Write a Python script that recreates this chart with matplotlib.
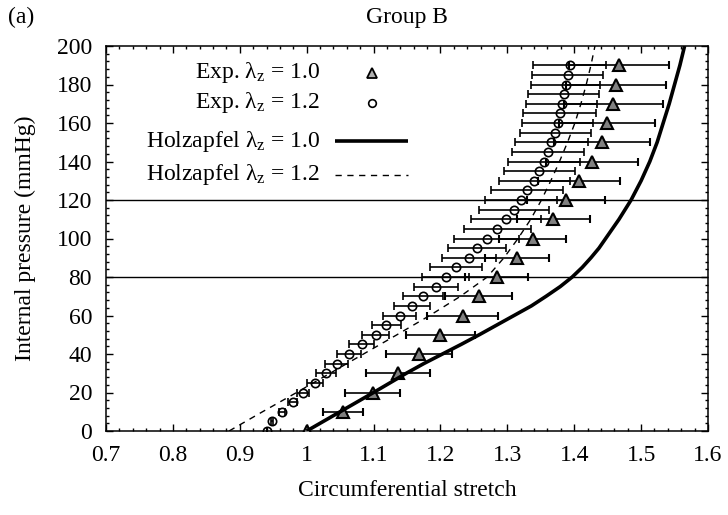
import numpy as np
import matplotlib
matplotlib.use("Agg")
import matplotlib.pyplot as plt
from matplotlib.ticker import MultipleLocator
from matplotlib.lines import Line2D

plt.rcParams["font.family"] = ["Liberation Serif", "DejaVu Serif"]
plt.rcParams["mathtext.fontset"] = "custom"
plt.rcParams["mathtext.rm"] = "Liberation Serif"
plt.rcParams["mathtext.it"] = "Liberation Serif:italic"
plt.rcParams["font.size"] = 17

# Experimental data, lambda_z = 1.0 (every 10 mmHg)
p_exp10 = [0, 10, 20, 30, 40, 50, 60, 70, 80, 90, 100, 110, 120, 130, 140, 150, 160, 170, 180, 190]
stretch_exp10 = [1.000, 1.054, 1.099, 1.136, 1.168, 1.200, 1.233, 1.257, 1.284, 1.315,
                 1.338, 1.369, 1.388, 1.407, 1.427, 1.442, 1.449, 1.458, 1.462, 1.467]
err_exp10 = [0.000, 0.030, 0.041, 0.048, 0.049, 0.051, 0.053, 0.050, 0.047, 0.048,
             0.050, 0.055, 0.058, 0.061, 0.069, 0.072, 0.072, 0.074, 0.075, 0.075]

# Experimental data, lambda_z = 1.2 (every 5 mmHg)
p_exp12 = [0, 5, 10, 15, 20, 25, 30, 35, 40, 45, 50, 55, 60, 65, 70, 75, 80, 85, 90, 95,
           100, 105, 110, 115, 120, 125, 130, 135, 140, 145, 150, 155, 160, 165, 170, 175,
           180, 185, 190]
stretch_exp12 = [0.940, 0.948, 0.963, 0.979, 0.994, 1.012, 1.029, 1.045, 1.063, 1.082,
                 1.103, 1.119, 1.139, 1.158, 1.174, 1.193, 1.208, 1.223, 1.243, 1.255,
                 1.269, 1.285, 1.298, 1.310, 1.320, 1.329, 1.340, 1.348, 1.355, 1.361,
                 1.366, 1.372, 1.375, 1.378, 1.381, 1.384, 1.387, 1.390, 1.393]
err_exp12 = [0.000, 0.002, 0.005, 0.007, 0.009, 0.012, 0.015, 0.017, 0.018, 0.019,
             0.020, 0.022, 0.025, 0.027, 0.030, 0.033, 0.035, 0.039, 0.040, 0.043,
             0.048, 0.050, 0.052, 0.053, 0.054, 0.054, 0.053, 0.053, 0.054, 0.054,
             0.054, 0.053, 0.053, 0.054, 0.053, 0.053, 0.052, 0.053, 0.054]

# Holzapfel model, lambda_z = 1.0
p_model10 = [0, 10, 20, 30, 35, 40, 45, 50, 55, 60, 65, 70, 75, 80, 85, 90, 95, 100,
             110, 120, 130, 140, 150, 160, 170, 180, 190, 200]
stretch_model10 = [1.000, 1.050, 1.100, 1.149, 1.175, 1.203, 1.231, 1.258, 1.284, 1.310,
                   1.336, 1.358, 1.379, 1.397, 1.412, 1.425, 1.437, 1.447, 1.467, 1.485,
                   1.500, 1.513, 1.524, 1.533, 1.542, 1.550, 1.558, 1.565]

# Holzapfel model, lambda_z = 1.2
p_model12 = [0, 10, 20, 30, 40, 50, 60, 70, 80, 90, 100, 110, 120, 130, 140, 150,
             160, 170, 180, 190, 200]
stretch_model12 = [0.884, 0.934, 0.985, 1.035, 1.085, 1.135, 1.184, 1.230, 1.270, 1.295,
                   1.316, 1.335, 1.351, 1.365, 1.378, 1.390, 1.401, 1.410, 1.418, 1.425,
                   1.431]

ref_pressures = [80, 120]

x_ticks = [0.7, 0.8, 0.9, 1.0, 1.1, 1.2, 1.3, 1.4, 1.5, 1.6]
x_ticklabels = ["0.7", "0.8", "0.9", "1", "1.1", "1.2", "1.3", "1.4", "1.5", "1.6"]

fig = plt.figure(figsize=(7.28, 5.15), dpi=100)
ax = fig.add_axes([106 / 728, 1 - 431 / 515, 602 / 728, 385 / 515])

for p in ref_pressures:
    ax.axhline(p, color="black", lw=1.0, zorder=1)

ax.plot(stretch_model12, p_model12, color="black", lw=1.0, dashes=(4.5, 4), zorder=2)

ax.errorbar(stretch_exp12, p_exp12, xerr=err_exp12, fmt="o", ms=6, mfc="none",
            mec="black", mew=1.2, ecolor="black", elinewidth=1.2, capsize=3,
            capthick=1.2, zorder=3)
ax.errorbar(stretch_exp10, p_exp10, xerr=err_exp10, fmt="^", ms=9, mfc="#808080",
            mec="black", mew=1.5, ecolor="black", elinewidth=1.2, capsize=3,
            capthick=1.2, zorder=4)

ax.plot(stretch_model10, p_model10, color="black", lw=2.6, solid_capstyle="butt",
        solid_joinstyle="round", zorder=5)

ax.set_xlim(0.7, 1.6)
ax.set_ylim(0, 200)
ax.set_xticks(x_ticks)
ax.set_xticklabels(x_ticklabels)
ax.yaxis.set_major_locator(MultipleLocator(20))
ax.xaxis.set_minor_locator(MultipleLocator(0.02))
ax.yaxis.set_minor_locator(MultipleLocator(4))
ax.tick_params(which="both", direction="in", top=True, right=True, width=1.0)
ax.tick_params(which="major", length=5, pad=10, labelsize=17)
ax.tick_params(which="minor", length=2.5)
for s in ax.spines.values():
    s.set_linewidth(1.1)

ax.set_xlabel("Circumferential stretch", fontsize=17)
ax.xaxis.label.set_va("center")
ax.xaxis.set_label_coords(0.5, (431 - 490) / 385)
ax.set_ylabel("Internal pressure (mmHg)", fontsize=17)
ax.yaxis.label.set_va("center")
ax.yaxis.set_label_coords((25 - 106) / 602, 0.5)

fig.text(407 / 728, 1 - 17 / 515, "Group B", ha="center", va="center", fontsize=17)
fig.text(8 / 728, 1 - 17 / 515, "(a)", ha="left", va="center", fontsize=17)

# Key: right-aligned labels followed by their symbols
lam = r"$\mathrm{\lambda_z}$"
key_rows = [
    ("Exp. " + lam + " = 1.0", 0.931, "tri"),
    ("Exp. " + lam + " = 1.2", 0.853, "circ"),
    ("Holzapfel " + lam + " = 1.0", 0.753, "solid"),
    ("Holzapfel " + lam + " = 1.2", 0.665, "dash"),
]
text_right = (320 - 106) / 602
sample_x0 = (335 - 106) / 602
sample_x1 = (408 - 106) / 602
marker_x = (372 - 106) / 602
for label, y, kind in key_rows:
    ax.text(text_right, y, label, transform=ax.transAxes, ha="right", va="center",
            fontsize=17)
    if kind == "tri":
        ax.add_line(Line2D([marker_x], [y], transform=ax.transAxes, marker="^", ms=7,
                           mfc="#b0b0b0", mec="black", mew=1.3, ls="none"))
    elif kind == "circ":
        ax.add_line(Line2D([marker_x], [y], transform=ax.transAxes, marker="o", ms=5.5,
                           mfc="none", mec="black", mew=1.2, ls="none"))
    elif kind == "solid":
        ax.add_line(Line2D([sample_x0, sample_x1], [y, y], transform=ax.transAxes,
                           color="black", lw=2.6, solid_capstyle="butt"))
    else:
        ax.add_line(Line2D([sample_x0, sample_x1], [y, y], transform=ax.transAxes,
                           color="black", lw=1.0, dashes=(4.5, 4)))

fig.savefig("out.png", dpi=100)
